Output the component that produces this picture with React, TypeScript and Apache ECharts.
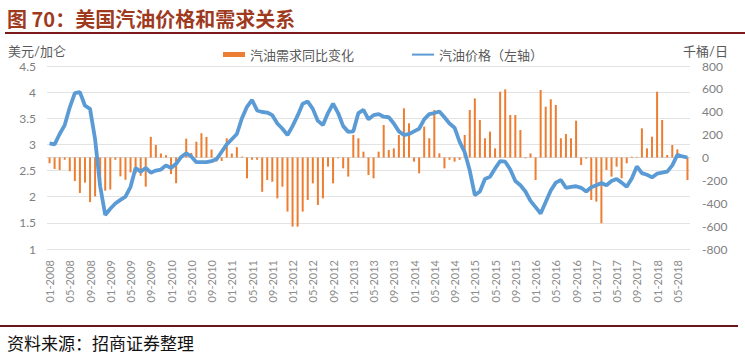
import React, { useEffect, useRef } from "react";
import * as echarts from "echarts";

const categories: string[] = [];
for (let y = 2008; y <= 2018; y++) {
  for (let m = 1; m <= 12; m++) {
    if (y === 2018 && m > 7) break;
    categories.push(`${String(m).padStart(2, "0")}-${y}`);
  }
}

const leftTicks = [1, 1.5, 2, 2.5, 3, 3.5, 4, 4.5];
const rightTicks = [-800, -600, -400, -200, 0, 200, 400, 600, 800];

const priceValues = [
  3.02, 3.0, 3.2, 3.37, 3.71, 3.98, 4.0, 3.74, 3.68, 3.1, 2.2, 1.65,
  1.77, 1.87, 1.94, 2.0, 2.19, 2.55, 2.48, 2.55, 2.46, 2.5, 2.52, 2.6,
  2.55, 2.63, 2.76, 2.83, 2.77, 2.66, 2.66, 2.66, 2.68, 2.72, 2.86, 3.0,
  3.1, 3.2, 3.5, 3.72, 3.85, 3.65, 3.62, 3.61, 3.56, 3.4, 3.3, 3.18,
  3.35, 3.55, 3.78, 3.82, 3.68, 3.45, 3.37, 3.6, 3.78, 3.6, 3.35, 3.24,
  3.25, 3.6, 3.66, 3.48, 3.56, 3.58, 3.53, 3.52, 3.4, 3.25, 3.18, 3.2,
  3.25, 3.3, 3.48, 3.58, 3.6, 3.63, 3.52, 3.4, 3.32, 3.05, 2.85, 2.5,
  2.03, 2.1, 2.34, 2.38, 2.54, 2.68, 2.67, 2.52, 2.3, 2.22, 2.1, 1.92,
  1.8, 1.68, 1.9, 2.12, 2.27, 2.32, 2.17, 2.19, 2.2, 2.17, 2.1, 2.18,
  2.22, 2.26, 2.22, 2.3, 2.34, 2.27, 2.19, 2.35, 2.58, 2.45, 2.42, 2.37,
  2.44, 2.46, 2.48, 2.6, 2.8, 2.77, 2.75,
];

const demandValues = [
  -50, -100, -110, -20, -120, -205, -310, -220, -390, -340, -195, -290,
  -280, -20, -165, -195, -130, -140, -160, -255, 180, 110, 35, 20,
  -145, -225, 10, 165, 40, 138, 212, 180, 70, -35, -30, 168,
  35, 90, 8, -182, -20, -20, -300, -197, -212, -357, -255, -473,
  -604, -604, -473, -371, -226, -415, -357, -80, -226, -7, -95, -167,
  197, 168, 51, -153, -182, 51, 284, 65, 80, 197, 430, 299,
  -36, -138, 270, 168, 415, 36, -95, -20, -36, -20, 197, 415,
  517, 328, 168, 226, 80, 575, 596, 371, 371, 240, -7, 36,
  -197, 590, 444, 509, 459, 168, 205, 168, 322, -66, -10, -371,
  -386, -575, -109, -167, -80, -182, -51, 7, 5, 255, 80, 182,
  575, 328, 22, 109, 71, 15, -197,
];

const FONT = 'Lato, "Noto Sans CJK SC", sans-serif';
const LINE_ICON = "path://M0,0L0,0M0,1.6L22,1.6L22,3.6L0,3.6ZM22,5L22,5";

export default function App() {
  const ref = useRef<HTMLDivElement>(null);
  useEffect(() => {
    if (!ref.current) return;
    const chart = echarts.init(ref.current, undefined, { renderer: "svg" });
    chart.setOption({
      animation: false,
      backgroundColor: "#ffffff",
      textStyle: { fontFamily: FONT },
      grid: { left: 47, right: 55, top: 66, bottom: 104 },
      legend: {
        left: 218,
        top: 43,
        itemWidth: 22,
        itemHeight: 5,
        itemGap: 58,
        textStyle: { fontSize: 13, color: "#595959", fontFamily: FONT },
        data: [
          { name: "汽油需求同比变化", icon: "rect" },
          { name: "汽油价格（左轴）", icon: LINE_ICON },
        ],
      },
      xAxis: {
        type: "category",
        data: categories,
        boundaryGap: true,
        axisLine: { show: true, lineStyle: { color: "#D9D9D9" } },
        axisTick: { show: false },
        axisLabel: {
          interval: 3,
          rotate: 90,
          fontSize: 11,
          color: "#8C8C8C",
          margin: 11,
          fontFamily: FONT,
        },
      },
      yAxis: [
        {
          type: "value",
          min: leftTicks[0],
          max: leftTicks[leftTicks.length - 1],
          interval: 0.5,
          axisLine: { show: false },
          axisTick: { show: false },
          splitLine: { lineStyle: { color: "#E3E3E3" } },
          axisLabel: { fontSize: 12, color: "#808080", margin: 11, fontFamily: FONT },
        },
        {
          type: "value",
          min: rightTicks[0],
          max: rightTicks[rightTicks.length - 1],
          interval: 200,
          axisLine: { show: false },
          axisTick: { show: false },
          splitLine: { show: false },
          axisLabel: { fontSize: 12, color: "#808080", margin: 12, fontFamily: FONT },
        },
      ],
      series: [
        {
          name: "汽油需求同比变化",
          type: "bar",
          yAxisIndex: 1,
          data: demandValues,
          barWidth: 2,
          itemStyle: { color: "#ED7D31" },
        },
        {
          name: "汽油价格（左轴）",
          type: "line",
          yAxisIndex: 0,
          data: priceValues,
          symbol: "none",
          lineStyle: { color: "#5B9BD5", width: 3.8 },
          itemStyle: { color: "#5B9BD5" },
          z: 3,
        },
      ],
      graphic: [
        {
          type: "text",
          left: 7,
          top: 8,
          style: {
            text: "图 70：美国汽油价格和需求关系",
            fontSize: 20,
            fontWeight: "bold",
            fill: "#9E3A1E",
            fontFamily: '"Noto Sans CJK SC", sans-serif',
          },
        },
        {
          type: "line",
          shape: { x1: 5, y1: 33, x2: 745, y2: 33 },
          style: { stroke: "#7A1A1A", lineWidth: 2 },
        },
        {
          type: "text",
          left: 8,
          top: 44,
          style: {
            text: "美元/加仑",
            fontSize: 13,
            lineHeight: 14,
            fill: "#595959",
            fontFamily: FONT,
          },
        },
        {
          type: "text",
          left: 683,
          top: 44,
          style: {
            text: "千桶/日",
            fontSize: 13,
            fill: "#595959",
            fontFamily: FONT,
          },
        },
        {
          type: "line",
          shape: { x1: 0, y1: 326, x2: 738, y2: 326 },
          style: { stroke: "#6B1518", lineWidth: 2 },
        },
        {
          type: "text",
          left: 7,
          top: 333,
          style: {
            text: "资料来源：招商证券整理",
            fontSize: 17,
            lineHeight: 18,
            fill: "#111111",
            fontFamily: '"Noto Sans CJK SC", sans-serif',
          },
        },
      ],
    });
    return () => chart.dispose();
  }, []);
  return (
    <div
      ref={ref}
      style={{ position: "fixed", left: 0, top: 0, width: 745, height: 353 }}
    />
  );
}
